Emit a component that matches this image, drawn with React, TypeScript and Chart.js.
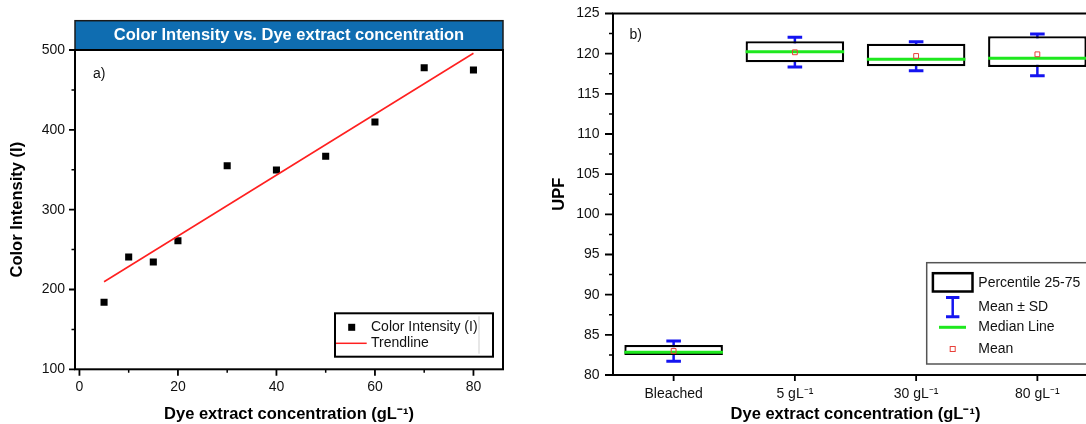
import React, { useEffect, useRef } from 'react';
import { Chart, registerables } from 'chart.js';

Chart.register(...registerables);

const FONT = "'Liberation Sans', Arial, sans-serif";
const TEXT = '#111111';

// ---- Panel a) data ----
const concentrations = [5, 10, 15, 20, 30, 40, 50, 60, 70, 80];
const colorIntensity = [184, 240.7, 234.4, 261.1, 355.1, 349.7, 366.8, 409.8, 477.8, 474.9];
const trendlineX = [5, 80];
const trendlineY = [209.7, 495.9];
const aXTicks = [0, 20, 40, 60, 80];
const aXMinorTicks = [10, 30, 50, 70];
const aYTicks = [100, 200, 300, 400, 500];
const aYMinorTicks = [150, 250, 350, 450];

// ---- Panel b) data ----
const groups = ['Bleached', '5 gL⁻¹', '30 gL⁻¹', '80 gL⁻¹'];
const q1Values = [82.49, 118.93, 118.43, 118.34];
const q3Values = [83.73, 121.54, 121.24, 122.16];
const medianValues = [82.83, 120.25, 119.3, 119.42];
const meanValues = [82.99, 120.17, 119.71, 119.92];
const sdLowValues = [81.7, 118.34, 117.88, 117.26];
const sdHighValues = [84.23, 122.04, 121.49, 122.45];
const bYTicks = [80, 85, 90, 95, 100, 105, 110, 115, 120, 125];
const bYMinorTicks = [82.5, 87.5, 92.5, 97.5, 102.5, 107.5, 112.5, 117.5, 122.5];

function drawTickMarks(chart: any, axisId: string, values: number[], len: number, lw: number) {
  const ctx = chart.ctx;
  const s = chart.scales[axisId];
  const a = chart.chartArea;
  ctx.save();
  ctx.strokeStyle = '#000';
  ctx.lineWidth = lw;
  ctx.beginPath();
  values.forEach((v) => {
    const p = s.getPixelForValue(v);
    if (s.isHorizontal()) {
      ctx.moveTo(p, a.bottom);
      ctx.lineTo(p, a.bottom + len);
    } else {
      ctx.moveTo(a.left, p);
      ctx.lineTo(a.left - len, p);
    }
  });
  ctx.stroke();
  ctx.restore();
}

function drawFrame(chart: any) {
  const ctx = chart.ctx;
  const a = chart.chartArea;
  ctx.save();
  ctx.strokeStyle = '#000';
  ctx.lineWidth = 2;
  ctx.strokeRect(a.left, a.top, a.right - a.left, a.bottom - a.top);
  ctx.restore();
}

const panelAPlugin = {
  id: 'panelA',
  afterDraw(chart: any) {
    const ctx = chart.ctx;
    const a = chart.chartArea;
    // title banner
    ctx.save();
    ctx.fillStyle = '#0f6db1';
    ctx.fillRect(a.left, 20.7, a.right - a.left, a.top - 20.7);
    ctx.strokeStyle = '#1a1a1a';
    ctx.lineWidth = 1.5;
    ctx.strokeRect(a.left, 20.7, a.right - a.left, a.top - 20.7);
    ctx.fillStyle = '#ffffff';
    ctx.font = `bold 16.5px ${FONT}`;
    ctx.textAlign = 'center';
    ctx.textBaseline = 'middle';
    ctx.fillText('Color Intensity vs. Dye extract concentration', (a.left + a.right) / 2, 35.5);
    ctx.restore();

    drawFrame(chart);
    drawTickMarks(chart, 'x', aXTicks, 6.5, 1.8);
    drawTickMarks(chart, 'x', aXMinorTicks, 3.5, 1.5);
    drawTickMarks(chart, 'y', aYTicks, 6, 1.8);
    drawTickMarks(chart, 'y', aYMinorTicks, 3.5, 1.5);

    // panel tag
    ctx.save();
    ctx.fillStyle = TEXT;
    ctx.font = `14px ${FONT}`;
    ctx.textAlign = 'left';
    ctx.textBaseline = 'middle';
    ctx.fillText('a)', a.left + 18, 74);
    ctx.restore();

    // legend
    const lx = 335, ly = 313.3, lw = 158, lh = 43.4;
    ctx.save();
    ctx.fillStyle = '#fff';
    ctx.fillRect(lx, ly, lw, lh);
    ctx.strokeStyle = '#cfcfcf';
    ctx.lineWidth = 1;
    ctx.beginPath();
    ctx.moveTo(479, ly + 3);
    ctx.lineTo(479, ly + lh - 3);
    ctx.stroke();
    ctx.strokeStyle = '#000';
    ctx.lineWidth = 2;
    ctx.strokeRect(lx, ly, lw, lh);
    ctx.fillStyle = '#000';
    ctx.fillRect(351.7 - 3.5, 327.3 - 3.5, 7, 7);
    ctx.strokeStyle = '#ff2020';
    ctx.lineWidth = 1.5;
    ctx.beginPath();
    ctx.moveTo(336, 343.3);
    ctx.lineTo(366.7, 343.3);
    ctx.stroke();
    ctx.fillStyle = TEXT;
    ctx.font = `14px ${FONT}`;
    ctx.textAlign = 'left';
    ctx.textBaseline = 'middle';
    ctx.fillText('Color Intensity (I)', 371, 327.3);
    ctx.fillText('Trendline', 371, 343.6);
    ctx.restore();
  },
};

const panelBPlugin = {
  id: 'panelB',
  beforeDatasetsDraw(chart: any) {
    const ctx = chart.ctx;
    const x = chart.scales.x;
    const y = chart.scales.y;
    ctx.save();
    ctx.strokeStyle = '#1414f0';
    groups.forEach((_, i) => {
      const px = x.getPixelForValue(i);
      const top = y.getPixelForValue(sdHighValues[i]);
      const bot = y.getPixelForValue(sdLowValues[i]);
      ctx.lineWidth = 2.5;
      ctx.beginPath();
      ctx.moveTo(px, top);
      ctx.lineTo(px, bot);
      ctx.stroke();
      ctx.lineWidth = 3;
      ctx.beginPath();
      ctx.moveTo(px - 7.3, top);
      ctx.lineTo(px + 7.3, top);
      ctx.moveTo(px - 7.3, bot);
      ctx.lineTo(px + 7.3, bot);
      ctx.stroke();
    });
    ctx.restore();
  },
  afterDatasetDraw(chart: any, args: any) {
    if (args.meta.type !== 'bar') return;
    const ctx = chart.ctx;
    const y = chart.scales.y;
    ctx.save();
    ctx.strokeStyle = '#1ee81e';
    ctx.lineWidth = 3;
    args.meta.data.forEach((bar: any, i: number) => {
      const { x, width } = bar.getProps(['x', 'width'], true);
      const py = y.getPixelForValue(medianValues[i]);
      ctx.beginPath();
      ctx.moveTo(x - width / 2, py);
      ctx.lineTo(x + width / 2, py);
      ctx.stroke();
    });
    ctx.restore();
  },
  afterDraw(chart: any) {
    const ctx = chart.ctx;
    const a = chart.chartArea;
    drawFrame(chart);
    drawTickMarks(chart, 'x', [0, 1, 2, 3], 6, 1.8);
    drawTickMarks(chart, 'y', bYTicks, 8, 1.8);
    drawTickMarks(chart, 'y', bYMinorTicks, 4, 1.5);

    ctx.save();
    ctx.fillStyle = TEXT;
    ctx.font = `14px ${FONT}`;
    ctx.textAlign = 'left';
    ctx.textBaseline = 'middle';
    ctx.fillText('b)', a.left + 16.5, 35.5);

    // legend
    const ox = 396.7, oy = 262.7;
    ctx.fillStyle = '#fff';
    ctx.fillRect(ox, oy, 200, 101.3);
    ctx.strokeStyle = '#555';
    ctx.lineWidth = 1.5;
    ctx.strokeRect(ox, oy, 200, 101.3);
    // box symbol
    ctx.strokeStyle = '#000';
    ctx.lineWidth = 2.5;
    ctx.strokeRect(402.9, 273.2, 39.6, 18.3);
    // error bar symbol
    ctx.strokeStyle = '#1414f0';
    ctx.lineWidth = 2.5;
    ctx.beginPath();
    ctx.moveTo(422.7, 297.5);
    ctx.lineTo(422.7, 316.8);
    ctx.stroke();
    ctx.lineWidth = 3;
    ctx.beginPath();
    ctx.moveTo(416, 297.5);
    ctx.lineTo(429.4, 297.5);
    ctx.moveTo(416, 316.8);
    ctx.lineTo(429.4, 316.8);
    ctx.stroke();
    // median symbol
    ctx.strokeStyle = '#1ee81e';
    ctx.lineWidth = 3;
    ctx.beginPath();
    ctx.moveTo(409, 327.3);
    ctx.lineTo(436, 327.3);
    ctx.stroke();
    // mean symbol
    ctx.strokeStyle = '#e8403a';
    ctx.lineWidth = 1;
    ctx.strokeRect(420.2, 346.5, 5, 5);
    ctx.fillStyle = TEXT;
    ctx.font = `14px ${FONT}`;
    ctx.fillText('Percentile 25-75', 448.3, 283.3);
    ctx.fillText('Mean ± SD', 448.3, 306.7);
    ctx.fillText('Median Line', 448.3, 327.3);
    ctx.fillText('Mean', 448.3, 349);
    ctx.restore();
  },
};

const tickFont = { family: FONT, size: 14 };
const titleFont = { family: FONT, size: 16.5, weight: 'bold' as const };

function PanelA() {
  const ref = useRef<HTMLCanvasElement>(null);
  useEffect(() => {
    const chart = new Chart(ref.current as HTMLCanvasElement, {
      type: 'scatter',
      data: {
        datasets: [
          {
            label: 'Color Intensity (I)',
            data: concentrations.map((x, i) => ({ x, y: colorIntensity[i] })),
            pointStyle: 'rect',
            pointRadius: 5,
            backgroundColor: '#000',
            borderColor: '#000',
            borderWidth: 0,
            showLine: false,
            order: 1,
          } as any,
          {
            type: 'line',
            label: 'Trendline',
            data: trendlineX.map((x, i) => ({ x, y: trendlineY[i] })),
            borderColor: '#ff2020',
            borderWidth: 1.6,
            pointRadius: 0,
            showLine: true,
            fill: false,
            order: 0,
          } as any,
        ],
      },
      options: {
        animation: false,
        responsive: false,
        layout: { padding: { left: 0, right: 27, top: 50, bottom: 0 } },
        plugins: { legend: { display: false }, tooltip: { enabled: false } },
        scales: {
          x: {
            type: 'linear',
            min: -0.9,
            max: 86,
            afterBuildTicks: (s: any) => {
              s.ticks = aXTicks.map((v) => ({ value: v }));
            },
            afterFit: (s: any) => {
              s.height = 54.7;
              s.paddingLeft = 0;
              s.paddingRight = 0;
            },
            grid: { display: false, drawTicks: false },
            border: { display: false },
            ticks: { font: tickFont, color: TEXT, padding: 9.5, maxRotation: 0 },
            title: {
              display: true,
              text: 'Dye extract concentration (gL⁻¹)',
              font: titleFont,
              color: '#000',
              padding: { top: 0, bottom: 0 },
            },
          },
          y: {
            type: 'linear',
            min: 100,
            max: 500,
            afterBuildTicks: (s: any) => {
              s.ticks = aYTicks.map((v) => ({ value: v }));
            },
            afterFit: (s: any) => {
              s.width = 75;
              s.paddingTop = 0;
              s.paddingBottom = 0;
            },
            grid: { display: false, drawTicks: false },
            border: { display: false },
            ticks: { font: tickFont, color: TEXT, padding: 10 },
            title: {
              display: true,
              text: 'Color Intensity (I)',
              font: titleFont,
              color: '#000',
              padding: { top: 8, bottom: 0 },
            },
          },
        },
      } as any,
      plugins: [panelAPlugin],
    });
    return () => chart.destroy();
  }, []);
  return (
    <canvas
      ref={ref}
      width={530}
      height={424}
      style={{ position: 'absolute', left: 0, top: 0, width: 530, height: 424 }}
    />
  );
}

function PanelB() {
  const ref = useRef<HTMLCanvasElement>(null);
  useEffect(() => {
    const chart = new Chart(ref.current as HTMLCanvasElement, {
      type: 'bar',
      data: {
        labels: groups,
        datasets: [
          {
            type: 'bar',
            label: 'Percentile 25-75',
            data: q1Values.map((v, i) => [v, q3Values[i]]),
            backgroundColor: '#ffffff',
            borderColor: '#000000',
            borderWidth: 2.3,
            borderSkipped: false,
            barPercentage: 0.813,
            categoryPercentage: 1,
            order: 2,
          } as any,
          {
            type: 'line',
            label: 'Mean',
            data: meanValues,
            showLine: false,
            pointStyle: 'rect',
            pointRadius: 3.4,
            pointBackgroundColor: 'rgba(255,255,255,0)',
            pointBorderColor: '#e8403a',
            pointBorderWidth: 1,
            order: 0,
          } as any,
        ],
      },
      options: {
        animation: false,
        responsive: false,
        layout: { padding: { left: 0, right: 12, top: 13.5, bottom: 0 } },
        plugins: { legend: { display: false }, tooltip: { enabled: false } },
        scales: {
          x: {
            type: 'category',
            offset: true,
            afterFit: (s: any) => {
              s.height = 49;
              s.paddingLeft = 0;
              s.paddingRight = 0;
            },
            grid: { display: false, drawTicks: false },
            border: { display: false },
            ticks: { font: tickFont, color: TEXT, padding: 10.5, maxRotation: 0, autoSkip: false },
            title: {
              display: true,
              text: 'Dye extract concentration (gL⁻¹)',
              font: titleFont,
              color: '#000',
              padding: { top: 0, bottom: 0 },
            },
          },
          y: {
            type: 'linear',
            min: 80,
            max: 125,
            afterBuildTicks: (s: any) => {
              s.ticks = bYTicks.map((v) => ({ value: v }));
            },
            afterFit: (s: any) => {
              s.width = 83;
              s.paddingTop = 0;
              s.paddingBottom = 0;
            },
            grid: { display: false, drawTicks: false },
            border: { display: false },
            ticks: { font: tickFont, color: TEXT, padding: 13.4 },
            title: {
              display: true,
              text: 'UPF',
              font: titleFont,
              color: '#000',
              padding: { top: 20, bottom: 0 },
            },
          },
        },
      } as any,
      plugins: [panelBPlugin],
    });
    return () => chart.destroy();
  }, []);
  return (
    <canvas
      ref={ref}
      width={580}
      height={424}
      style={{ position: 'absolute', left: 530, top: 0, width: 580, height: 424 }}
    />
  );
}

export default function App() {
  return (
    <div
      style={{
        position: 'absolute',
        left: 0,
        top: 0,
        width: 1086,
        height: 424,
        overflow: 'hidden',
        background: '#ffffff',
      }}
    >
      <PanelA />
      <PanelB />
    </div>
  );
}
